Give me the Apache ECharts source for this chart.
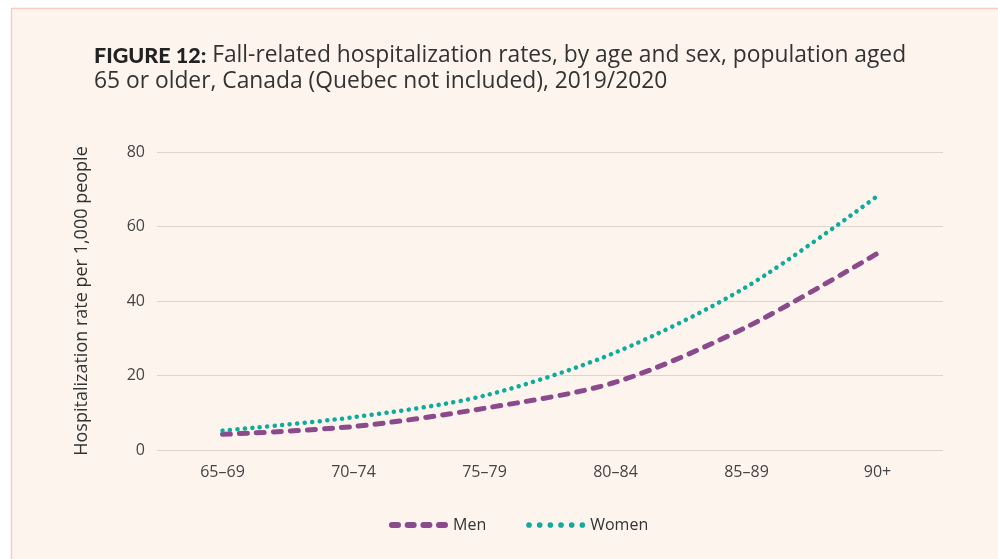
<!DOCTYPE html>
<html>
<head>
<meta charset="utf-8">
<script src="https://cdn.jsdelivr.net/npm/echarts@6/dist/echarts.min.js"></script>
<style>
  html, body { margin: 0; padding: 0; background: #ffffff; }
  #chart { width: 998px; height: 559px; }
</style>
</head>
<body>
<div id="chart"></div>
<script>
  const ageGroups = ['65\u201369', '70\u201374', '75\u201379', '80\u201384', '85\u201389', '90+']
  const menRates = [4.2, 6.3, 11.2, 18.2, 33.0, 52.8]
  const womenRates = [5.2, 8.8, 14.6, 26.2, 43.8, 68.2]
  const yTicks = [0, 20, 40, 60, 80]

  // legend icons: pill dashes for men, dots for women
  const pill = x => `M${x + 3},0 L${x + 9},0 A3,3 0 0 1 ${x + 9},6 L${x + 3},6 A3,3 0 0 1 ${x + 3},0 Z `
  const dot = x => `M${x},3 A2.8,2.8 0 1 1 ${x + 5.6},3 A2.8,2.8 0 1 1 ${x},3 Z `
  const menIcon = 'path://' + [0, 15.7, 31.4, 47].map(pill).join('')
  const womenIcon = 'path://' + [0, 10.6, 21.2, 31.8, 42.4, 53].map(dot).join('')

  const chart = echarts.init(document.getElementById('chart'))

  const option = {
    backgroundColor: '#ffffff',
    textStyle: { fontFamily: '"Open Sans", sans-serif' },
    graphic: [
      {
        type: 'rect',
        z: -10,
        shape: { x: 11.5, y: 8.5, width: 1000, height: 600 },
        style: { fill: '#fdf4ee', stroke: '#f6cfbf', lineWidth: 1.5 }
      }
    ],
    title: {
      left: 89,
      top: 38,
      text: '{b|FIGURE 12:} Fall-related hospitalization rates, by age and sex, population aged\n65 or older, Canada (Quebec not included), 2019/2020',
      textStyle: {
        fontSize: 22.8,
        fontWeight: 'normal',
        color: '#333333',
        lineHeight: 26,
        rich: {
          b: { fontSize: 21.5, fontWeight: 900, color: '#222222', fontFamily: 'Lato, sans-serif' }
        }
      }
    },
    grid: {
      left: 157,
      right: 55,
      top: 152,
      bottom: 109
    },
    legend: {
      bottom: 21,
      left: 384,
      itemWidth: 59,
      itemHeight: 6,
      itemGap: 40,
      textStyle: { fontSize: 16, color: '#333333' },
      data: [
        { name: 'Men', icon: menIcon },
        { name: 'Women', icon: womenIcon }
      ]
    },
    xAxis: {
      type: 'category',
      data: ageGroups,
      boundaryGap: true,
      axisLine: { show: false },
      axisTick: { show: false },
      axisLabel: { fontSize: 16, color: '#444444', margin: 14 }
    },
    yAxis: {
      type: 'value',
      min: yTicks[0],
      max: yTicks[yTicks.length - 1],
      interval: 20,
      name: 'Hospitalization rate per 1,000 people',
      nameLocation: 'middle',
      nameGap: 66,
      nameTextStyle: { fontSize: 18, color: '#333333' },
      axisLine: { show: false },
      axisTick: { show: false },
      axisLabel: { fontSize: 16, color: '#444444', margin: 12 },
      splitLine: { lineStyle: { color: '#ddd3ce', width: 1.2 } }
    },
    series: [
      {
        name: 'Men',
        type: 'line',
        data: menRates,
        smooth: 0.3,
        symbol: 'none',
        color: '#8b4a8c',
        lineStyle: { width: 5, type: [8, 9], cap: 'round', color: '#8b4a8c' }
      },
      {
        name: 'Women',
        type: 'line',
        data: womenRates,
        smooth: 0.3,
        symbol: 'none',
        color: '#0fab9b',
        lineStyle: { width: 4.5, type: [0.1, 7.4], cap: 'round', color: '#0fab9b' }
      }
    ]
  }

  chart.setOption(option)
</script>
</body>
</html>
